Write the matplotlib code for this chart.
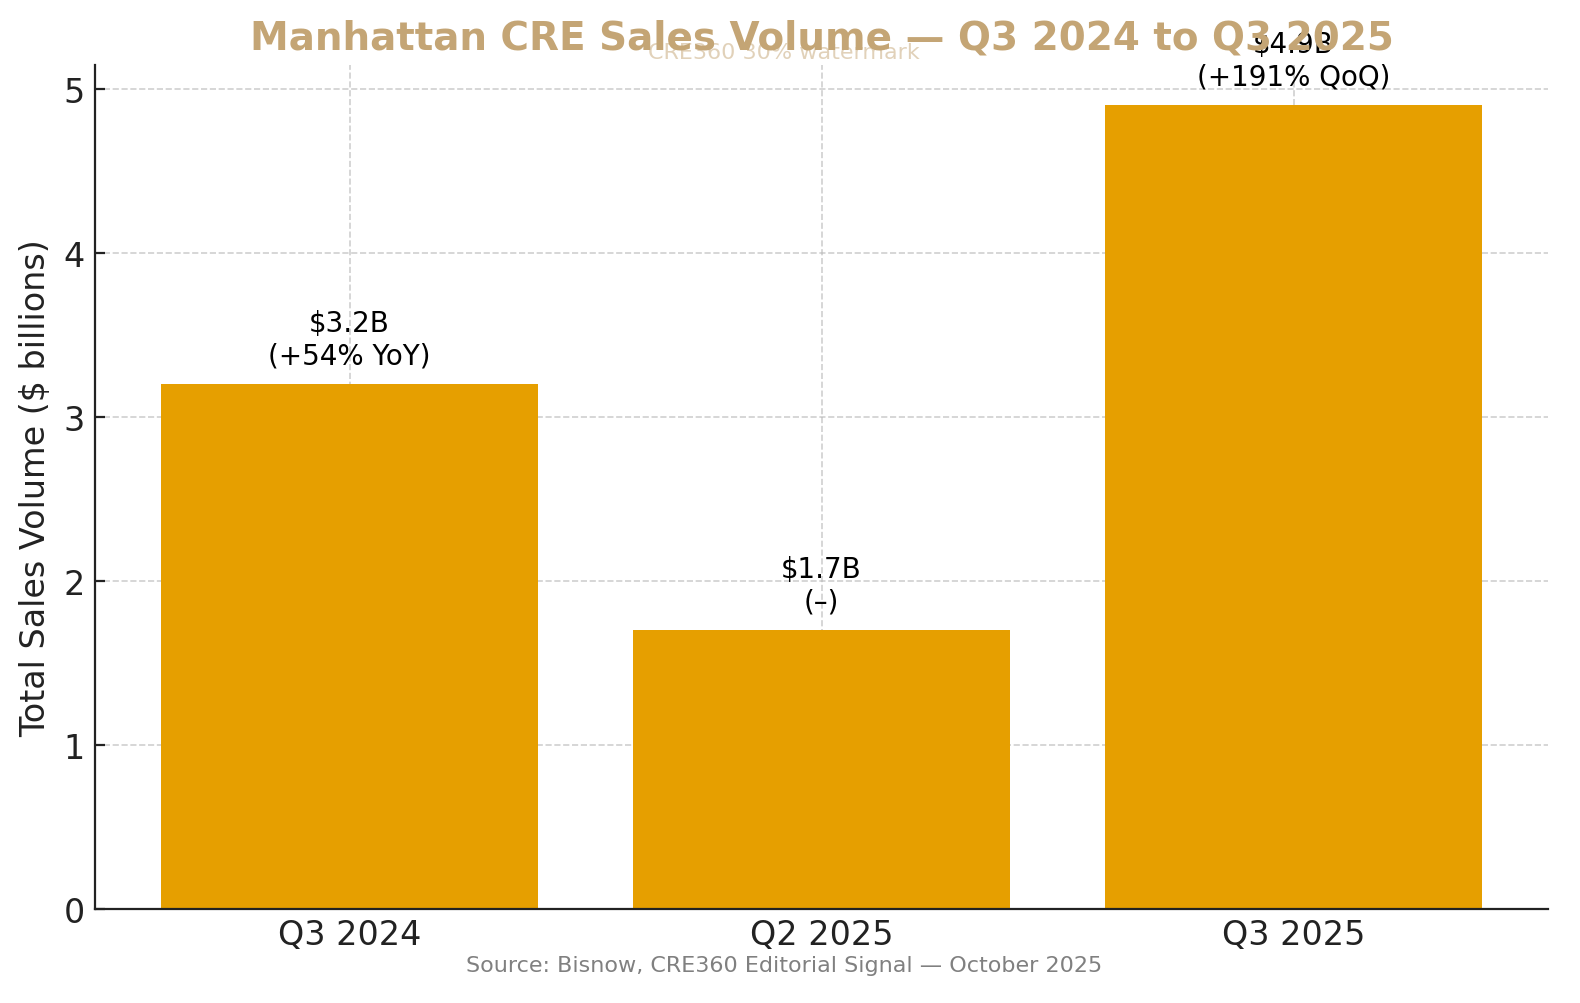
import matplotlib.pyplot as plt

quarters = ['Q3 2024', 'Q2 2025', 'Q3 2025']
volume = [3.2, 1.7, 4.9]
changes = ['(+54% YoY)', '(–)', '(+191% QoQ)']

fig, ax = plt.subplots(figsize=(7.9, 5.02), dpi=200)
fig.subplots_adjust(left=0.060, right=0.980, top=0.934, bottom=0.094)

x = range(len(quarters))
ax.bar(x, volume, width=0.8, color='#E69F00', zorder=2)
ax.set_xticks(list(x))
ax.set_xticklabels(quarters, fontsize=12)
ax.tick_params(axis='both', direction='in', labelsize=12, colors='#222222')
ax.set_ylim(0, max(volume) * 1.05)
ax.set_ylabel('Total Sales Volume ($ billions)', fontsize=12, color='#222222')
ax.grid(True, linestyle='--', color='#bbbbbb', alpha=0.7, linewidth=0.6, zorder=3)
ax.spines['top'].set_visible(False)
ax.spines['right'].set_visible(False)
for s in ['left', 'bottom']:
    ax.spines[s].set_color('#222222')

for i, v in enumerate(volume):
    ax.text(i, v + 0.09, f'${v}B\n{changes[i]}', ha='center', va='bottom', fontsize=10)

ax.set_title('Manhattan CRE Sales Volume — Q3 2024 to Q3 2025',
             fontsize=14, fontweight='bold', color='#C4A575', pad=6)
fig.text(0.496, 0.947, 'CRE360 30% watermark', ha='center', va='center',
         fontsize=8, color='#C4A575', alpha=0.5)
fig.text(0.496, 0.038, 'Source: Bisnow, CRE360 Editorial Signal — October 2025',
         ha='center', va='center', fontsize=8, color='gray')

plt.savefig('out.png', dpi=200)
